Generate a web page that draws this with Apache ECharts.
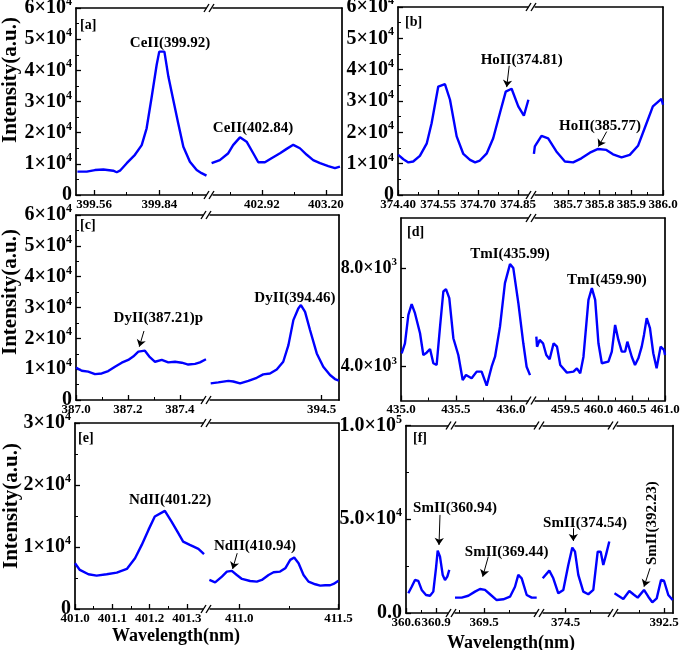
<!DOCTYPE html>
<html><head><meta charset="utf-8">
<script src="https://cdn.jsdelivr.net/npm/echarts@6/dist/echarts.min.js"></script>
<style>html,body{margin:0;padding:0;background:#fff}#c{width:685px;height:650px}</style>
</head><body><div id="c"></div>
<script>
// ---------------- data ----------------
const aX1 = [399.489,399.529,399.564,399.600,399.642,399.657,399.671,399.700,399.735,399.764,399.785,399.807,399.828,399.839,399.861,399.878,399.899,399.920,399.942,399.970,399.999,400.020,400.041];
const aY1 = [7500,7500,8000,8200,7800,7300,7800,10200,12900,16000,21400,31600,41800,46000,46000,38000,30500,23000,15500,10700,8000,7000,6200];
const aX2 = [402.700,402.736,402.773,402.794,402.824,402.853,402.882,402.904,402.933,402.962,402.999,403.028,403.057,403.086,403.116,403.144,403.174,403.210,403.239,403.261];
const aY2 = [10200,11200,13400,16000,18500,17100,13400,10500,10500,11800,13400,14800,16100,15000,12900,11200,10200,9300,8600,9100];

const bX1 = [374.401,374.420,374.439,374.457,374.482,374.508,374.526,374.551,374.576,374.595,374.620,374.645,374.670,374.689,374.707,374.733,374.757,374.782,374.804,374.826,374.851,374.872,374.889];
const bY1 = [12800,11400,10400,10700,12500,16500,22900,34600,35400,30400,18700,13100,11200,10400,11000,13300,18100,26100,33000,33900,28300,25300,30400];
const bX2 = [385.592,385.595,385.616,385.637,385.663,385.690,385.716,385.742,385.769,385.795,385.821,385.842,385.869,385.895,385.921,385.942,385.968,385.995,386.0];
const bY2 = [13100,15500,18900,18100,13900,10700,10400,11700,13500,14700,14400,13000,12000,12800,15700,21300,28300,30700,28800];

const cX1 = [387.000,387.022,387.047,387.073,387.099,387.124,387.150,387.176,387.201,387.220,387.240,387.265,387.282,387.304,387.330,387.355,387.381,387.407,387.432,387.458,387.477,387.500];
const cY1 = [10500,9500,9200,8400,8600,9400,10800,12100,13000,14100,15700,16000,14100,12400,13000,12200,12400,12100,11500,11700,12200,13200];
const cX2 = [394.073,394.102,394.141,394.160,394.186,394.218,394.250,394.275,394.301,394.327,394.352,394.372,394.391,394.410,394.420,394.436,394.455,394.481,394.506,394.532,394.551,394.566];
const cY2 = [5400,5700,6200,6000,5400,6200,7200,8300,8600,9900,12400,17800,25900,29700,30800,28600,22700,15100,10800,8100,6800,6300];

const dX1 = [435.006,435.036,435.067,435.097,435.127,435.173,435.203,435.233,435.264,435.294,435.324,435.355,435.385,435.409,435.439,435.476,435.521,435.561,435.591,435.642,435.688,435.733,435.779,435.824,435.855,435.900,435.945,435.991,436.021,436.067,436.112,436.142,436.173];
const dY1 = [4545,4950,6100,6535,6170,5355,4475,4570,4720,4140,4070,5625,7050,7145,6780,5155,4475,3460,3665,3530,3800,3800,3230,4000,4405,5625,7390,8160,8000,6580,4950,4000,3660];
const dX2 = [459.065,459.076,459.115,459.166,459.215,459.265,459.325,459.376,459.425,459.525,459.624,459.675,459.725,459.774,459.849,459.900,459.950,459.999,460.050,460.149,460.200,460.250,460.299,460.350,460.400,460.434,460.500,460.549,460.599,460.650,460.684,460.725,460.774,460.824,460.874,460.934,460.985,461.0];
const dY2 = [5220,4810,5085,4950,4475,4300,4950,4815,4070,3760,3800,3935,3730,4405,6710,7185,6710,4950,4140,4205,4610,5695,5085,4610,4610,5015,4405,4070,4340,4815,5290,5970,5560,4545,3935,4815,4680,4475];

const eX1 = [401.0,401.013,401.036,401.058,401.085,401.112,401.139,401.161,401.179,401.197,401.214,401.241,401.259,401.277,401.290,401.308,401.331,401.346];
const eY1 = [7380,6300,5600,5380,5600,5870,6460,8190,10340,12760,14910,15830,14100,12230,10870,10340,9690,8840];
const eX2 = [410.850,410.879,410.913,410.938,410.963,410.988,411.014,411.055,411.089,411.114,411.148,411.173,411.206,411.232,411.257,411.277,411.299,411.324,411.349,411.383,411.408,411.433,411.458,411.475,411.500];
const eY2 = [4680,4300,5220,6030,6140,5490,4850,4520,4410,4680,5490,5920,6030,6570,7920,8300,7380,5490,4410,3990,3770,3830,3830,4040,4570];

const fX1 = [360.623,360.657,360.690,360.723,360.757,360.800,360.840,360.873,360.900,360.917,360.940,360.967,360.990,361.013,361.033];
const fY1 = [10500,14000,17600,17100,12300,9600,9200,11400,23900,33300,30100,20300,17600,19400,23000];
const fX2 = [369.210,369.277,369.343,369.410,369.460,369.510,369.560,369.627,369.693,369.760,369.810,369.843,369.877,369.927,369.977,370.027];
const fY2 = [8200,8200,9200,11400,12800,12300,10000,6900,7300,8700,14000,20300,18500,9600,8200,8200];
const fX3 = [374.272,374.338,374.378,374.428,374.478,374.528,374.568,374.595,374.628,374.678,374.728,374.778,374.822,374.852,374.878,374.905,374.938];
const fY3 = [18500,22600,18500,10500,12300,25600,34900,32700,20300,11400,10000,12300,32700,32700,25600,31000,38100];
const fX4 = [392.005,392.043,392.093,392.153,392.193,392.237,392.300,392.343,392.383,392.427,392.470,392.500,392.543,392.587];
const fY4 = [10500,9200,7500,11700,10000,8200,12300,8700,5700,7800,17600,17200,9600,6900];

// ---------------- tick values / labels ----------------
const aT1 = [399.56,399.84], aL1 = ['399.56','399.84'], aM1 = [399.70,399.98];
const aT2 = [402.92,403.20], aL2 = ['402.92','403.20'], aM2 = [402.78,403.06];
const bT1 = [374.40,374.55,374.70,374.85], bL1 = ['374.40','374.55','374.70','374.85'], bM1 = [374.475,374.625,374.775];
const bT2 = [385.7,385.8,385.9,386.0], bL2 = ['385.7','385.8','385.9','386.0'], bM2 = [385.65,385.75,385.85,385.95];
const cT1 = [387.0,387.2,387.4], cL1 = ['387.0','387.2','387.4'], cM1 = [387.1,387.3];
const cT2 = [394.5], cL2 = ['394.5'], cM2 = [];
const dT1 = [435.0,435.5,436.0], dL1 = ['435.0','435.5','436.0'], dM1 = [435.25,435.75];
const dT2 = [459.5,460.0,460.5,461.0], dL2 = ['459.5','460.0','460.5','461.0'], dM2 = [459.25,459.75,460.25,460.75];
const eT1 = [401.0,401.1,401.2,401.3], eL1 = ['401.0','401.1','401.2','401.3'], eM1 = [401.05,401.15,401.25];
const eT2 = [411.0,411.5], eL2 = ['411.0','411.5'], eM2 = [411.25];
const fT1 = [360.6,360.9], fL1 = ['360.6','360.9'], fM1 = [360.75];
const fT2 = [369.5], fL2 = ['369.5'], fM2 = [369.25,369.75];
const fT3 = [374.5], fL3 = ['374.5'], fM3 = [374.75];
const fT4 = [392.5], fL4 = ['392.5'], fM4 = [392.25];

const y6T = [0,10000,20000,30000,40000,50000,60000];
const y6L = ['0','1×10^4','2×10^4','3×10^4','4×10^4','5×10^4','6×10^4'];
const y6M = [5000,15000,25000,35000,45000,55000];
const dYT = [4000,8000], dYL = ['4.0×10^3','8.0×10^3'], dYM = [6000];
const eYT = [0,10000,20000,30000], eYL = ['0','1×10^4','2×10^4','3×10^4'], eYM = [5000,15000,25000];
const fYT = [0,50000,100000], fYL = ['0.0','5.0×10^4','1.0×10^5'], fYM = [25000,75000];

// ---------------- annotations ----------------
const aNotes = [{seg:0,x:399.885,y:48770,text:'CeII(399.92)'},{seg:1,x:402.881,y:21500,text:'CeII(402.84)'}];
const aArrows = [];
const bNotes = [{seg:0,x:374.864,y:43160,text:'HoII(374.81)'},{seg:1,x:385.801,y:21840,text:'HoII(385.77)'}];
const bArrows = [{seg:0,x1:374.817,y1:41240,x2:374.8076,y2:34430},{seg:1,x1:385.822,y1:20240,x2:385.796,y2:15440}];
const cNotes = [{seg:0,x:387.317,y:26500,text:'DyII(387.21)p'},{seg:1,x:394.397,y:33180,text:'DyII(394.46)'}];
const cArrows = [{seg:0,x1:387.2615,y1:22380,x2:387.2435,y2:17285}];
const dNotes = [{seg:0,x:435.991,y:8569,text:'TmI(435.99)'},{seg:1,x:460.126,y:7524,text:'TmI(459.90)'}];
const dArrows = [];
const eNotes = [{seg:0,x:401.255,y:17610,text:'NdII(401.22)'},{seg:1,x:411.0796,y:10065,text:'NdII(410.94)'}];
const eArrows = [{seg:1,x1:410.990,y1:9000,x2:410.967,y2:6460}];
const fNotes = [{seg:1,x:369.21,y:55900,text:'SmII(360.94)'},{seg:1,x:369.727,y:32730,text:'SmII(369.44)'},{seg:2,x:374.695,y:47890,text:'SmII(374.54)'},{seg:3,x:392.377,y:47890,text:'SmII(392.23)',rot:90}];
const fArrows = [{seg:0,x1:360.94,y1:52320,x2:360.93,y2:36300},{seg:1,x1:369.543,y1:30060,x2:369.487,y2:19380},{seg:2,x1:374.578,y1:45220,x2:374.578,y2:38440},{seg:3,x1:392.36,y1:23870,x2:392.30,y2:14040}];

// ---------------- layout ----------------
const F = 'Liberation Serif';
const BLUE = '#0000ff';
const panels = [
  {top:8, bottom:195, yMin:0, yMax:60000, yT:y6T, yL:y6L, yM:y6M, ySize:20, notes:aNotes, arrows:aArrows,
   tag:{t:'[a]',x:80,y:25}, title:{x:11,y:80},
   segs:[{l:76,r:210,min:399.483,max:400.056,xs:aX1,ys:aY1,t:aT1,tl:aL1,m:aM1},
         {l:210,r:342,min:402.693,max:403.270,xs:aX2,ys:aY2,t:aT2,tl:aL2,m:aM2}]},
  {top:7, bottom:195, yMin:0, yMax:60000, yT:y6T, yL:y6L, yM:y6M, ySize:20, notes:bNotes, arrows:bArrows,
   tag:{t:'[b]',x:405,y:22},
   segs:[{l:398,r:532,min:374.40,max:374.9025,xs:bX1,ys:bY1,t:bT1,tl:bL1,m:bM1},
         {l:532,r:663,min:385.586,max:386.0,xs:bX2,ys:bY2,t:bT2,tl:bL2,m:bM2}]},
  {top:215, bottom:400, yMin:0, yMax:60000, yT:y6T, yL:y6L, yM:y6M, ySize:20, notes:cNotes, arrows:cArrows,
   tag:{t:'[c]',x:80,y:225}, title:{x:11,y:292},
   segs:[{l:76,r:207,min:387.0,max:387.504,xs:cX1,ys:cY1,t:cT1,tl:cL1,m:cM1},
         {l:207,r:339,min:394.0588,max:394.5665,xs:cX2,ys:cY2,t:cT2,tl:cL2,m:cM2}]},
  {top:218, bottom:400.5, yMin:2630, yMax:10030, yT:dYT, yL:dYL, yM:dYM, ySize:18, notes:dNotes, arrows:dArrows,
   tag:{t:'[d]',x:407,y:232},
   segs:[{l:401,r:532,min:435.0,max:436.191,xs:dX1,ys:dY1,t:dT1,tl:dL1,m:dM1},
         {l:532,r:665,min:459.0,max:461.0,xs:dX2,ys:dY2,t:dT2,tl:dL2,m:dM2}]},
  {top:423, bottom:609, yMin:0, yMax:30000, yT:eYT, yL:eYL, yM:eYM, ySize:20, notes:eNotes, arrows:eArrows,
   tag:{t:'[e]',x:78,y:438}, title:{x:12,y:506}, xname:{x:176,y:636},
   segs:[{l:75,r:207,min:401.0,max:401.354,xs:eX1,ys:eY1,t:eT1,tl:eL1,m:eM1},
         {l:207,r:338.5,min:410.838,max:411.5,xs:eX2,ys:eY2,t:eT2,tl:eL2,m:eM2}]},
  {top:425.5, bottom:613, yMin:0, yMax:100000, yT:fYT, yL:fYL, yM:fYM, ySize:20, notes:fNotes, arrows:fArrows,
   tag:{t:'[f]',x:413,y:438}, xname:{x:511,y:643},
   segs:[{l:406,r:452,min:360.6,max:361.06,xs:fX1,ys:fY1,t:fT1,tl:fL1,m:fM1},
         {l:452,r:540,min:369.18,max:370.06,xs:fX2,ys:fY2,t:fT2,tl:fL2,m:fM2},
         {l:540,r:614,min:374.245,max:374.985,xs:fX3,ys:fY3,t:fT3,tl:fL3,m:fM3},
         {l:614,r:673,min:392.0,max:392.59,xs:fX4,ys:fY4,t:fT4,tl:fL4,m:fM4}]}
];

function labelFor(v, vals, labs){
  let best = 0, d = Infinity;
  vals.forEach((x,i)=>{ const dd = Math.abs(x - v); if(dd < d){d = dd; best = i;} });
  return labs[best];
}
function richLabel(s){
  const i = s.indexOf('^');
  if(i < 0) return '{m|' + s + '}';
  return '{m|' + s.slice(0,i) + '}{e|' + s.slice(i+1) + '}';
}
const pairs = (xs, ys) => xs.map((x,i)=>[x, ys[i]]);
const lineSt = {color:'#000', width:1.7};

const grids=[], xAxes=[], yAxes=[], series=[], graphics=[];
panels.forEach(p=>{
  const n = p.segs.length;
  p.segs.forEach((s,j)=>{
    const box = {left:s.l, top:p.top, width:s.r - s.l, height:p.bottom - p.top, containLabel:false, outerBoundsMode:'none'};
    const gi = grids.length;
    grids.push(Object.assign({}, box));
    grids.push(Object.assign({}, box));
    const xi = xAxes.length;
    xAxes.push({type:'value', gridIndex:gi, position:'bottom', min:s.min, max:s.max,
      axisLine:{show:true, onZero:false, lineStyle:lineSt},
      axisTick:{show:true, inside:true, length:5, customValues:s.t, lineStyle:{color:'#000', width:1.3}},
      axisLabel:{show:true, customValues:s.t, hideOverlap:false, showMinLabel:true, showMaxLabel:true,
        formatter:(v)=>labelFor(v, s.t, s.tl), fontFamily:F, fontWeight:'bold', fontSize:13, color:'#000', margin:3},
      splitLine:{show:false}, minorTick:{show:false}});
    xAxes.push({type:'value', gridIndex:gi, position:'top', min:s.min, max:s.max,
      axisLine:{show:true, onZero:false, lineStyle:lineSt}, axisTick:{show:false}, axisLabel:{show:false}, splitLine:{show:false}});
    xAxes.push({type:'value', gridIndex:gi+1, position:'bottom', min:s.min, max:s.max,
      axisLine:{show:false}, axisTick:{show:s.m.length>0, inside:true, length:3, customValues:s.m, lineStyle:{color:'#000', width:1}},
      axisLabel:{show:false}, splitLine:{show:false}});
    const yi = yAxes.length;
    yAxes.push({type:'value', gridIndex:gi, position:'left', min:p.yMin, max:p.yMax, show:j===0,
      axisLine:{show:true, onZero:false, lineStyle:lineSt},
      axisTick:{show:true, inside:true, length:5, customValues:p.yT, lineStyle:{color:'#000', width:1.3}},
      axisLabel:{show:true, customValues:p.yT, hideOverlap:false, formatter:(v)=>richLabel(labelFor(v, p.yT, p.yL)), margin:4,
        rich:{m:{fontFamily:F, fontWeight:'bold', fontSize:p.ySize, color:'#000', lineHeight:p.ySize+4},
              e:{fontFamily:F, fontWeight:'bold', fontSize:Math.round(p.ySize*0.62), color:'#000', verticalAlign:'top'}}},
      splitLine:{show:false}});
    yAxes.push({type:'value', gridIndex:gi, position:'right', min:p.yMin, max:p.yMax, show:j===n-1,
      axisLine:{show:true, onZero:false, lineStyle:lineSt}, axisTick:{show:false}, axisLabel:{show:false}, splitLine:{show:false}});
    yAxes.push({type:'value', gridIndex:gi+1, position:'left', min:p.yMin, max:p.yMax, show:j===0,
      axisLine:{show:false}, axisTick:{show:true, inside:true, length:3, customValues:p.yM, lineStyle:{color:'#000', width:1}},
      axisLabel:{show:false}, splitLine:{show:false}});
    const notes = p.notes.filter(t=>t.seg===j);
    const arrows = p.arrows.filter(a=>a.seg===j);
    series.push({type:'line', xAxisIndex:xi, yAxisIndex:yi, data:pairs(s.xs, s.ys),
      showSymbol:false, symbol:'none', clip:true, silent:true, animation:false,
      lineStyle:{color:BLUE, width:2.4}, itemStyle:{color:BLUE}, emphasis:{disabled:true},
      markPoint:{symbol:'rect', symbolSize:1, silent:true, animation:false, itemStyle:{color:'rgba(0,0,0,0)'},
        label:{show:true, position:'inside', fontFamily:F, fontWeight:'bold', fontSize:15, color:'#000'},
        data:notes.map(t=>({coord:[t.x, t.y], value:0, label:{formatter:t.text, rotate:t.rot||0}}))},
      markLine:{silent:true, animation:false, symbol:['none','arrow'], symbolSize:7, precision:6,
        lineStyle:{color:'#000', width:1, type:'solid'}, label:{show:false}, emphasis:{disabled:true},
        data:arrows.map(a=>[{coord:[a.x1, a.y1]},{coord:[a.x2, a.y2]}])}
    });
  });
  // break marks
  p.segs.slice(1).forEach(s=>{
    [p.top, p.bottom].forEach(y=>{
      const b = s.l;
      graphics.push({type:'rect', z:100, shape:{x:b-3.5, y:y-1.5, width:6, height:3}, style:{fill:'#fff'}});
      graphics.push({type:'line', z:101, shape:{x1:b-6, y1:y+4, x2:b-1, y2:y-4}, style:{stroke:'#000', lineWidth:1.4}});
      graphics.push({type:'line', z:101, shape:{x1:b-1, y1:y+4, x2:b+4, y2:y-4}, style:{stroke:'#000', lineWidth:1.4}});
    });
  });
  graphics.push({type:'text', z:100, x:p.tag.x, y:p.tag.y, style:{text:p.tag.t, fontFamily:F, fontWeight:'bold', fontSize:14, fill:'#000', align:'left', verticalAlign:'middle'}});
  if(p.title) graphics.push({type:'text', z:100, x:p.title.x, y:p.title.y, rotation:Math.PI/2,
    style:{text:'Intensity(a.u.)', fontFamily:F, fontWeight:'bold', fontSize:21, fill:'#000', align:'center', verticalAlign:'middle'}});
  if(p.xname) graphics.push({type:'text', z:100, x:p.xname.x, y:p.xname.y,
    style:{text:'Wavelength(nm)', fontFamily:F, fontWeight:'bold', fontSize:18, fill:'#000', align:'center', verticalAlign:'middle'}});
});

const chart = echarts.init(document.getElementById('c'), null, {renderer:'canvas'});
chart.setOption({
  animation:false, backgroundColor:'#fff',
  grid:grids, xAxis:xAxes, yAxis:yAxes, series:series, graphic:graphics,
  tooltip:{show:false}, legend:{show:false}
});
</script>
</body></html>
